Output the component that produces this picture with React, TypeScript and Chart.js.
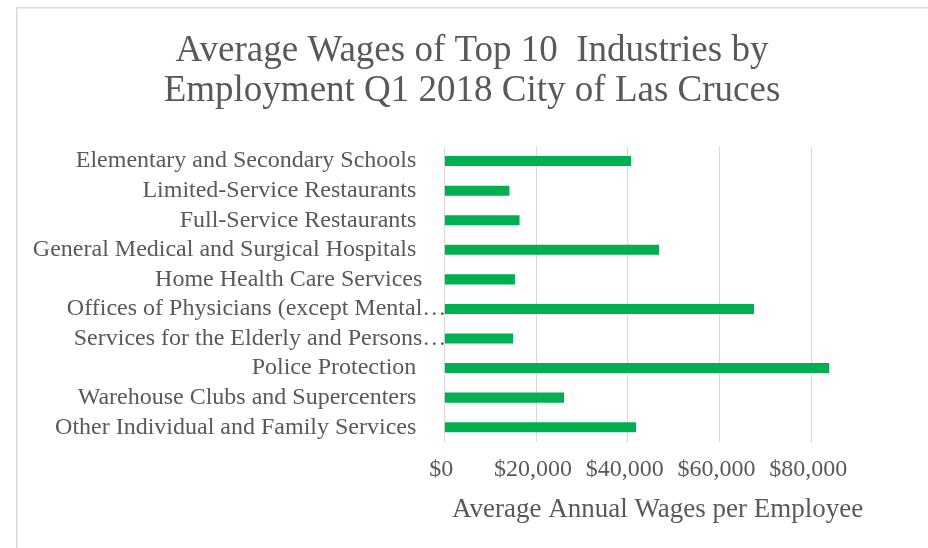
import React, { useEffect, useRef } from "react";
import { Chart, registerables } from "chart.js";

Chart.register(...registerables);

const TITLE_LINES = [
  "Average Wages of Top 10  Industries by",
  "Employment Q1 2018 City of Las Cruces",
];
const CATEGORIES = [
  "Elementary and Secondary Schools ",
  "Limited-Service Restaurants ",
  "Full-Service Restaurants ",
  "General Medical and Surgical Hospitals ",
  "Home Health Care Services",
  "Offices of Physicians (except Mental…",
  "Services for the Elderly and Persons…",
  "Police Protection ",
  "Warehouse Clubs and Supercenters ",
  "Other Individual and Family Services ",
];
const WAGES = [40700, 14200, 16400, 46800, 15400, 67500, 15000, 83900, 26100, 41800];
const X_TICKS = [0, 20000, 40000, 60000, 80000];
const X_MAX = 93000;
const X_TITLE = "Average Annual Wages per Employee";

const FONT = "'Liberation Serif', 'Times New Roman', serif";
const TEXT = "#595959";
const GRID = "#d9d9d9";

const borderPlugin = {
  id: "outerBorder",
  beforeDraw(chart: any) {
    const ctx = chart.ctx;
    ctx.save();
    ctx.strokeStyle = GRID;
    ctx.lineWidth = 1.5;
    ctx.beginPath();
    ctx.moveTo(16.75, chart.height);
    ctx.lineTo(16.75, 7.75);
    ctx.lineTo(chart.width, 7.75);
    ctx.stroke();
    ctx.restore();
  },
};

export default function App() {
  const ref = useRef<HTMLCanvasElement | null>(null);

  useEffect(() => {
    if (!ref.current) return;
    Chart.defaults.font.family = FONT;
    const chart = new Chart(ref.current, {
      type: "bar",
      data: {
        labels: CATEGORIES,
        datasets: [
          {
            data: WAGES,
            backgroundColor: "#00B050",
            borderWidth: 0,
            categoryPercentage: 1,
            barPercentage: 0.34,
          },
        ],
      },
      options: {
        indexAxis: "y",
        animation: false,
        responsive: true,
        maintainAspectRatio: false,
        layout: { padding: { left: 16, right: 0, top: 0, bottom: 0 } },
        plugins: {
          legend: { display: false },
          tooltip: { enabled: false },
          title: {
            display: true,
            text: TITLE_LINES,
            color: TEXT,
            font: { family: FONT, size: 37, weight: "normal", lineHeight: 40 / 37 },
            padding: { top: 31, bottom: 35.3 },
          },
        },
        scales: {
          x: {
            type: "linear",
            min: 0,
            max: X_MAX,
            afterBuildTicks: (scale: any) => {
              scale.ticks = X_TICKS.map((v) => ({ value: v }));
            },
            afterFit: (scale: any) => {
              scale.height = 106;
            },
            grid: { color: GRID, lineWidth: 1, drawTicks: false },
            border: { display: false },
            ticks: {
              color: TEXT,
              font: { family: FONT, size: 24 },
              padding: 13.3,
              maxRotation: 0,
              callback: (v: any) => "$" + Number(v).toLocaleString("en-US") + " ",
            },
            title: {
              display: true,
              text: X_TITLE,
              color: TEXT,
              font: { family: FONT, size: 27 },
              padding: { top: 0, bottom: 22 },
            },
          },
          y: {
            type: "category",
            position: "left",
            afterFit: (scale: any) => {
              scale.width = 428.3;
            },
            grid: { display: false, drawTicks: false },
            border: { display: false },
            ticks: {
              color: TEXT,
              font: { family: FONT, size: 24 },
              padding: -2,
              autoSkip: false,
              callback: function (this: any, _v: any, i: number) {
                const l = CATEGORIES[i];
                return l.endsWith("…") ? l : l + "    ";
              },
            },
          },
          y2: {
            type: "linear",
            axis: "y",
            position: "right",
            display: true,
            afterFit: (scale: any) => {
              scale.width = 57;
            },
            grid: { display: false, drawTicks: false },
            border: { display: false },
            ticks: { display: false },
          },
        },
      },
      plugins: [borderPlugin],
    } as any);
    return () => chart.destroy();
  }, []);

  return (
    <div style={{ position: "absolute", left: 0, top: 0, width: 928, height: 548, background: "#fff" }}>
      <canvas ref={ref} />
    </div>
  );
}
